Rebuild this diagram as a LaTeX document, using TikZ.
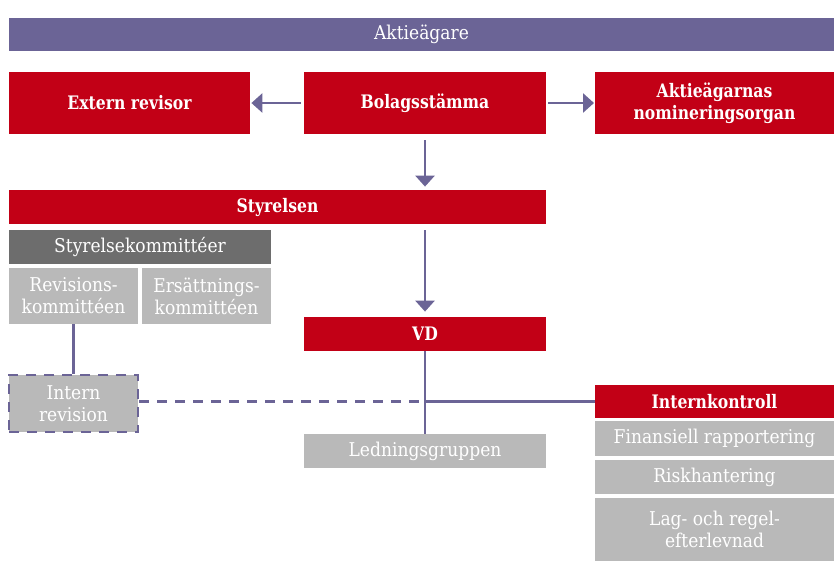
\documentclass[tikz,border=0pt]{standalone}
\usepackage{fontspec}
\setmainfont{DejaVu Serif}[FakeStretch=0.9,BoldFeatures={FakeStretch=0.84}]
\usepackage{xcolor}
\usepackage{tikz}
\usetikzlibrary{arrows.meta}
\definecolor{aktiepurple}{HTML}{6B6496}
\definecolor{bolagred}{HTML}{C20016}
\definecolor{kommgrey}{HTML}{6D6D6D}
\definecolor{lightgrey}{HTML}{B9B9B9}

\begin{document}
\begin{tikzpicture}[x=0.5pt,y=-0.5pt,
  font=\fontsize{9.5}{11}\selectfont,
  box/.style={rectangle,inner sep=0pt,text=white,align=center},
  purplebox/.style={box,fill=aktiepurple},
  redbox/.style={box,fill=bolagred,font=\fontsize{9.3}{11}\selectfont\bfseries},
  darkbox/.style={box,fill=kommgrey},
  greybox/.style={box,fill=lightgrey},
  link/.style={draw=aktiepurple,line width=1.4pt},
  arrow/.style={link,-{Triangle[width=9.5pt,length=5.5pt]}}]
  \useasboundingbox (0,0) rectangle (834,580);
  % ── Top rows ───────────────────────────────────────
  \node[purplebox,minimum width=412.5pt,minimum height=16.5pt] (aktie) at (421.5,34.5) {Aktieägare};
  \node[redbox,minimum width=120.5pt,minimum height=31pt] (extern) at (129.5,103) {Extern revisor};
  \node[redbox,minimum width=121pt,minimum height=31pt]   (stamma) at (425,103) {Bolagsstämma};
  \node[redbox,minimum width=119.5pt,minimum height=31pt] (nomin)  at (714.5,103) {Aktieägarnas\\nomineringsorgan};
  % ── Board and committees ───────────────────────────
  \node[redbox,minimum width=268.5pt,minimum height=17pt] (styrelsen) at (277.5,207) {Styrelsen};
  \node[darkbox,minimum width=131pt,minimum height=17pt]  (kommitteer) at (140,247) {Styrelsekommittéer};
  \node[greybox,minimum width=64.5pt,minimum height=28pt] (revkom) at (73.5,296) {Revisions-\\kommittéen};
  \node[greybox,minimum width=64.5pt,minimum height=28pt] (erskom) at (206.5,296) {Ersättnings-\\kommittéen};
  \node[greybox,minimum width=64.5pt,minimum height=28.5pt,draw=aktiepurple,line width=1.3pt,
        dash pattern=on 5pt off 4pt] (intrev) at (73.5,403.5) {Intern\\revision};
  % ── Management ─────────────────────────────────────
  \node[redbox,minimum width=121pt,minimum height=17pt]  (vd) at (425,334) {VD};
  \node[greybox,minimum width=121pt,minimum height=17pt] (ledning) at (425,451) {Ledningsgruppen};
  % ── Internal control stack ─────────────────────────
  \node[redbox,minimum width=119.5pt,minimum height=16.5pt]  (intkontroll) at (714.5,401.5) {Internkontroll};
  \node[greybox,minimum width=119.5pt,minimum height=17.5pt] (finans) at (714.5,438.5) {Finansiell rapportering};
  \node[greybox,minimum width=119.5pt,minimum height=17pt]   (risk)   at (714.5,477) {Riskhantering};
  \node[greybox,minimum width=119.5pt,minimum height=31.5pt] (lag)    at (714.5,529.5) {Lag- och regel-\\efterlevnad};
  % ── Arrows ─────────────────────────────────────────
  \draw[arrow,shorten <=1.5pt,shorten >=0.5pt] (stamma.west) -- (extern.east);
  \draw[arrow,shorten <=1pt,shorten >=0.3pt]   (stamma.east) -- (nomin.west);
  \draw[arrow,shorten <=3pt,shorten >=1.5pt]   (stamma.south) -- (styrelsen.north -| stamma.south);
  \draw[arrow,shorten <=3pt,shorten >=2.5pt]   (styrelsen.south -| vd.north) -- (vd.north);
  % ── Lines ──────────────────────────────────────────
  \draw[link] (vd.south) -- (ledning.north);
  \draw[link] (revkom.south) -- (intrev.north);
  \coordinate (cross) at (vd.south |- intkontroll.west);
  \draw[link,dash pattern=on 5pt off 4pt] (intrev.east |- cross) -- (cross);
  \draw[link] (cross) -- (intkontroll.west);
\end{tikzpicture}
\end{document}
